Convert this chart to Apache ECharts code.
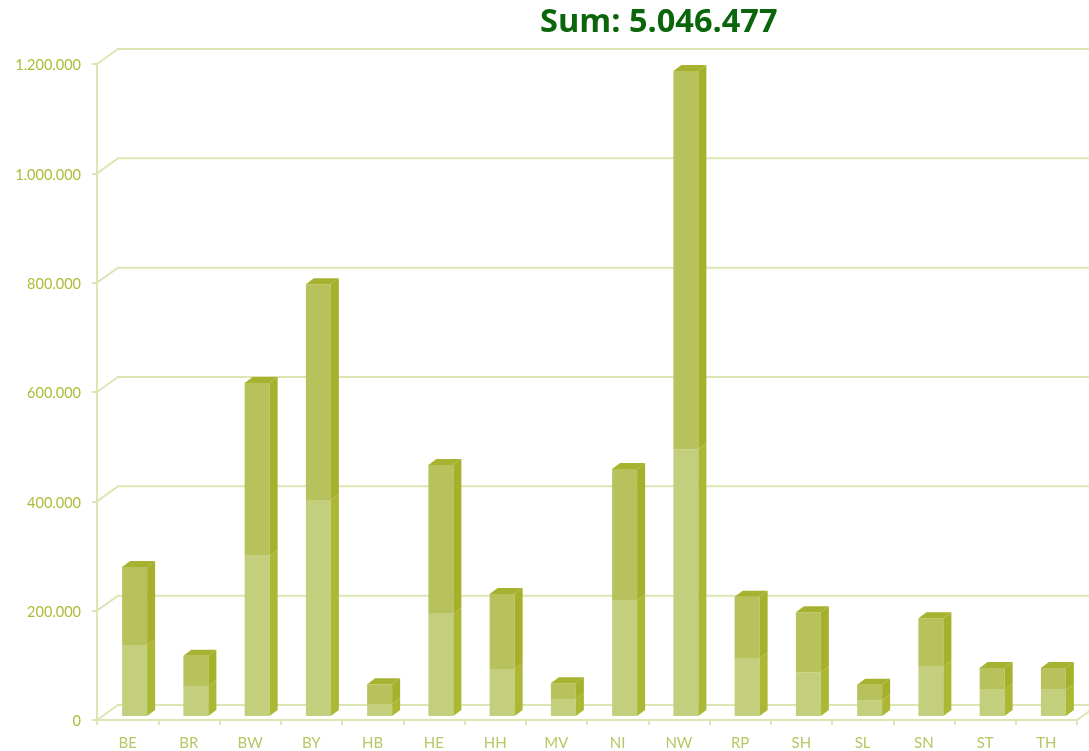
<!DOCTYPE html>
<html>
<head>
<meta charset="utf-8">
<style>
    html, body { margin: 0; padding: 0; background: #fff; }
    #chart-container { width: 1089px; height: 751px; }
</style>
<script src="https://cdn.jsdelivr.net/npm/echarts@6/dist/echarts.min.js"></script>
</head>
<body>
<div id="chart-container"></div>
<script>
const categories = ['BE', 'BR', 'BW', 'BY', 'HB', 'HE', 'HH', 'MV', 'NI', 'NW', 'RP', 'SH', 'SL', 'SN', 'ST', 'TH'];
const lowerValues = [130000, 55000, 293000, 395000, 22000, 187000, 86000, 31000, 212000, 488000, 106000, 80000, 29000, 90000, 48000, 48000];
const totalValues = [272600, 110000, 609000, 790000, 58000, 459000, 223000, 60000, 452000, 1180000, 218000, 190000, 57000, 179000, 88000, 88000];
const gridValues = [0, 200000, 400000, 600000, 800000, 1000000, 1200000];

// depth of the fake 3d walls and bars
const wallDx = 21, wallDy = -15;
const barDx = 8, barDy = -6;
const barWidth = 25, barOffsetX = 7, barOffsetY = -4;

const lineColor = '#dde5b2';

const renderWall = (params, api) => {
    const p = api.coord([0, api.value(1)]);
    const left = params.coordSys.x;
    const right = left + params.coordSys.width;
    const children = [{
        type: 'polyline',
        shape: { points: [[left, p[1]], [left + wallDx, p[1] + wallDy], [right + wallDx, p[1] + wallDy]] },
        style: { stroke: lineColor, lineWidth: 2, fill: null }
    }];
    if (api.value(1) === 0) {
        children.push({
            type: 'line',
            shape: { x1: right, y1: p[1], x2: right + wallDx, y2: p[1] + wallDy },
            style: { stroke: lineColor, lineWidth: 2 }
        });
    }
    return { type: 'group', children: children };
};

const makeBar = (front, side, top) => (params, api) => {
    const bottom = api.coord([api.value(0), api.value(1)]);
    const upper = api.coord([api.value(0), api.value(2)]);
    const x = bottom[0] - barWidth / 2 + barOffsetX;
    const y0 = bottom[1] + barOffsetY;
    const y1 = upper[1] + barOffsetY;
    const children = [
        { type: 'rect', shape: { x: x, y: y1, width: barWidth, height: y0 - y1 }, style: { fill: front } },
        { type: 'polygon', shape: { points: [[x + barWidth, y0], [x + barWidth + barDx, y0 + barDy], [x + barWidth + barDx, y1 + barDy], [x + barWidth, y1]] }, style: { fill: side } }
    ];
    if (top) {
        children.push({ type: 'polygon', shape: { points: [[x, y1], [x + barDx, y1 + barDy], [x + barWidth + barDx, y1 + barDy], [x + barWidth, y1]] }, style: { fill: top } });
    }
    return { type: 'group', children: children };
};

const dom = document.getElementById('chart-container');
const myChart = echarts.init(dom, null, { renderer: 'canvas' });

const option = {
    animation: false,
    backgroundColor: '#ffffff',
    title: {
        text: 'Sum: 5.046.477',
        left: 535,
        top: 1,
        textStyle: { fontFamily: 'Open Sans', fontWeight: 'bold', fontSize: 32.5, color: '#0b650b' }
    },
    grid: { left: 97, top: 64, width: 980, height: 656 },
    xAxis: {
        type: 'category',
        data: categories,
        axisLine: { lineStyle: { color: lineColor, width: 2 } },
        axisTick: { show: true, length: 5, lineStyle: { color: lineColor, width: 2 } },
        axisLabel: { color: '#b9c665', fontFamily: 'Lato', fontSize: 15, margin: 16 }
    },
    yAxis: {
        type: 'value',
        min: 0,
        max: 1200000,
        interval: 200000,
        axisLine: { show: true, lineStyle: { color: lineColor, width: 2 } },
        axisTick: { show: true, length: 5, lineStyle: { color: lineColor, width: 2 } },
        splitLine: { show: false },
        axisLabel: {
            margin: 16,
            formatter: (v) => '{t|' + String(v).replace(/\B(?=(\d{3})+$)/g, '.') + '}',
            rich: {
                t: { color: '#adbc38', fontFamily: 'Lato', fontSize: 14.5, padding: [3, 0, 0, 0] }
            }
        }
    },
    series: [
        { type: 'custom', renderItem: renderWall, data: gridValues.map((v) => [0, v]), z: 1, silent: true },
        {
            type: 'custom',
            renderItem: makeBar('#c4cf7d', '#acb733', null),
            data: categories.map((c, i) => [i, 0, lowerValues[i]]),
            encode: { x: 0, y: [1, 2] },
            z: 2
        },
        {
            type: 'custom',
            renderItem: makeBar('#b8c25c', '#a5b02b', '#a7b230'),
            data: categories.map((c, i) => [i, lowerValues[i], totalValues[i]]),
            encode: { x: 0, y: [1, 2] },
            z: 2
        }
    ]
};

myChart.setOption(option);
window.addEventListener('resize', myChart.resize);
</script>
</body>
</html>
